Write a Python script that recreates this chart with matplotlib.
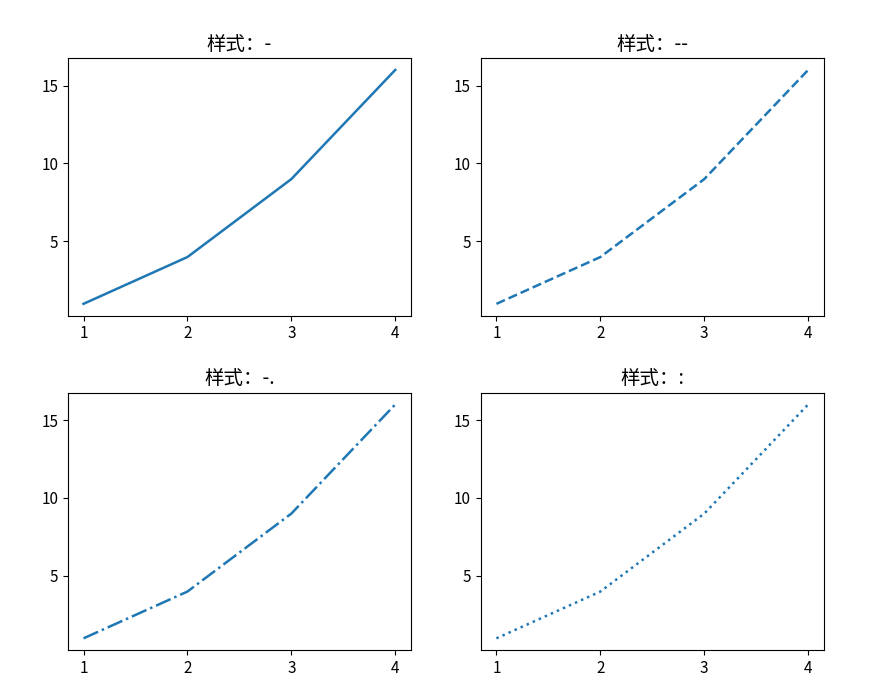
import matplotlib
matplotlib.use("Agg")
import matplotlib.pyplot as plt

plt.rcParams['font.family'] = ['Noto Sans CJK SC', 'DejaVu Sans']
plt.rcParams['axes.unicode_minus'] = False

x = [1, 2, 3, 4]
y = [1, 4, 9, 16]
styles = ['-', '--', '-.', ':']
titles = ['样式：-', '样式：--', '样式：-.', '样式：:']

fig, axes = plt.subplots(2, 2, figsize=(8.82, 6.93), dpi=100)
fig.subplots_adjust(left=0.077, right=0.934, top=0.916, bottom=0.062,
                    wspace=0.204, hspace=0.30)
for ax, ls, t in zip(axes.flat, styles, titles):
    ax.plot(x, y, linestyle=ls, color='#1f77b4', linewidth=1.8)
    ax.set_title(t, fontsize=14)
    ax.set_xticks(x)
    ax.set_yticks([5, 10, 15])
    ax.tick_params(labelsize=11)

fig.savefig('out.png', dpi=100)
